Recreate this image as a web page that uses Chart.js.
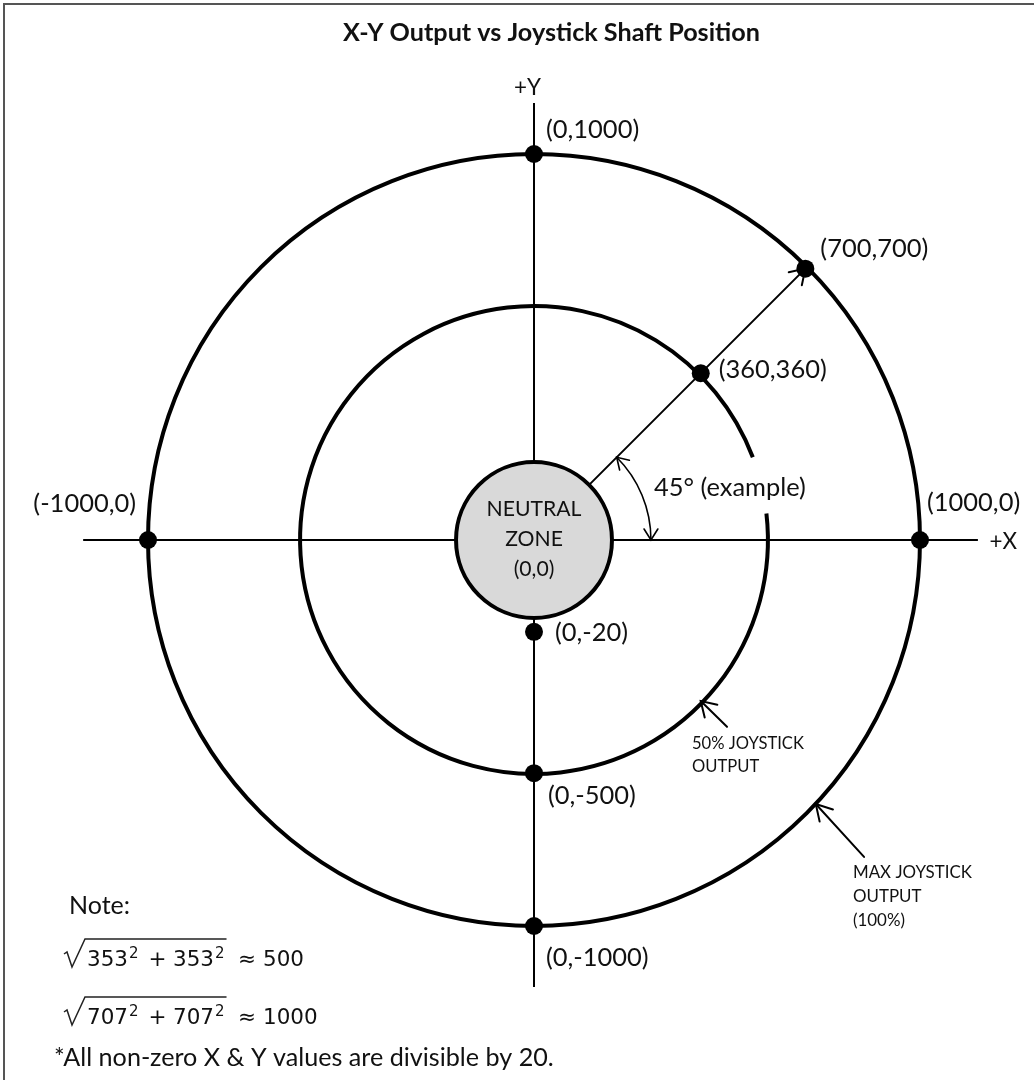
<!DOCTYPE html>
<html>
<head>
<meta charset="utf-8">
<script src="https://cdn.jsdelivr.net/npm/chart.js@4.4.1/dist/chart.umd.min.js"></script>
<style>
  html, body { margin: 0; padding: 0; background: #fff; }
  canvas { display: block; }
</style>
</head>
<body>
<canvas id="c" width="1034" height="1080"></canvas>
<script>
// ---------------- data (diagram units: 100% output ring = 1000) ----------------
const titleText   = 'X-Y Output vs Joystick Shaft Position';
const pointLabels = ['(0,1000)', '(700,700)', '(360,360)', '(-1000,0)', '(1000,0)', '(0,-20)', '(0,-500)', '(0,-1000)'];
const pointX      = [0, 703, 432, -1000, 1000, 0, 0, 0];
const pointY      = [1000, 703, 432, 0, 0, -238, -604, -1000];
const ringRadii   = [1000, 606];          // MAX (100%) ring, 50% ring
const neutralRadius = 202;
const neutralLines  = ['NEUTRAL', 'ZONE', '(0,0)'];
const angleLabel    = '45° (example)';
const innerCallout  = ['50% JOYSTICK', 'OUTPUT'];
const outerCallout  = ['MAX JOYSTICK', 'OUTPUT', '(100%)'];
const noteTitle     = 'Note:';
const formulaTerms  = ['353', '707'];
const formulaResults = ['500', '1000'];
const footnote      = '*All non-zero X & Y values are divisible by 20.';
const axisLabels    = ['+X', '+Y'];

// ---------------- layout ----------------
const W = 1034, H = 1080;
const CX = 534, CY = 540, RPX = 386;          // pixel centre & ring radius
const U = 1000 / RPX;                          // data units per pixel
const FONT = 'Lato, "Open Sans", sans-serif';
const MATHFONT = '"DejaVu Sans", sans-serif';
const INK = '#111';

// label offsets (px) from their dot: [dx, dy(mid of digits), align]
const labelOffsets = [
  [12, -25, 'left'], [15, -21, 'left'], [18, -4, 'left'], [-12, -37, 'right'],
  [7, -38, 'left'], [21, 0, 'left'], [14, 22, 'left'], [12, 31, 'left']
];

function line(ctx, x1, y1, x2, y2) { ctx.beginPath(); ctx.moveTo(x1, y1); ctx.lineTo(x2, y2); ctx.stroke(); }
function barbs(ctx, tx, ty, backAngle, len, spread) {
  ctx.beginPath();
  ctx.moveTo(tx + len * Math.cos(backAngle - spread), ty + len * Math.sin(backAngle - spread));
  ctx.lineTo(tx, ty);
  ctx.lineTo(tx + len * Math.cos(backAngle + spread), ty + len * Math.sin(backAngle + spread));
  ctx.stroke();
}
function fit(ctx, text, family, weight, width) {
  ctx.font = `${weight} 100px ${family}`;
  return 100 * width / ctx.measureText(text).width;
}
// draw text so that the middle of its capital/digit height sits at y
function put(ctx, text, x, y, size, family, weight, align) {
  ctx.font = `${weight} ${size}px ${family}`;
  ctx.textAlign = align; ctx.textBaseline = 'alphabetic';
  ctx.fillStyle = INK;
  const capH = ctx.measureText('H').actualBoundingBoxAscent;
  ctx.fillText(text, x, y + capH / 2);
}
const rad = d => d * Math.PI / 180;

const diagram = {
  id: 'diagram',
  beforeDatasetsDraw(chart) {
    const { ctx, scales: { x, y } } = chart;
    const px = v => x.getPixelForValue(v), py = v => y.getPixelForValue(v);
    const cx = px(0), cy = py(0);
    const r = v => px(v) - px(0);
    ctx.save();
    // frame
    ctx.strokeStyle = '#555'; ctx.lineWidth = 2;
    ctx.strokeRect(4, 4, W + 20, H + 20);
    // axes
    ctx.strokeStyle = '#000'; ctx.lineWidth = 2; ctx.lineCap = 'butt';
    line(ctx, px(-1168), cy, px(1150), cy);
    line(ctx, cx, py(1132), cx, py(-1158));
    // outer ring
    ctx.lineWidth = 4;
    ctx.beginPath(); ctx.arc(cx, cy, r(ringRadii[0]), 0, Math.PI * 2); ctx.stroke();
    // inner ring with gap for the angle label
    ctx.beginPath(); ctx.arc(cx, cy, r(ringRadii[1]), rad(-6.5), rad(-20.7), false); ctx.stroke();
    // radial arrow to (700,700)
    ctx.lineWidth = 2; ctx.lineCap = 'round';
    const a45 = rad(45);
    const sx = cx + r(neutralRadius) * Math.cos(a45), sy = cy - r(neutralRadius) * Math.sin(a45);
    const ex = px(pointX[1]), ey = py(pointY[1]);
    line(ctx, sx, sy, ex, ey);
    barbs(ctx, ex, ey, Math.atan2(sy - ey, sx - ex), 17, rad(33));
    // neutral zone
    ctx.beginPath(); ctx.arc(cx, cy, r(neutralRadius), 0, Math.PI * 2);
    ctx.fillStyle = '#d9d9d9'; ctx.fill();
    ctx.lineWidth = 4; ctx.strokeStyle = '#000'; ctx.stroke();
    // 45° angle arc
    const ar = r(303);
    ctx.lineWidth = 1.6;
    ctx.beginPath(); ctx.arc(cx, cy, ar, -a45, 0, false); ctx.stroke();
    barbs(ctx, cx + ar, cy, -Math.PI / 2, 13, rad(32));
    barbs(ctx, cx + ar * Math.cos(a45), cy - ar * Math.sin(a45), rad(45), 13, rad(32));
    // callout arrows
    ctx.lineWidth = 2;
    const inTip = [px(432), py(-417)], inTail = [px(500), py(-484)];
    line(ctx, inTail[0], inTail[1], inTip[0], inTip[1]);
    barbs(ctx, inTip[0], inTip[1], Math.atan2(inTail[1] - inTip[1], inTail[0] - inTip[0]), 17, rad(32));
    const outTip = [px(730), py(-684)], outTail = [px(855), py(-821)];
    line(ctx, outTail[0], outTail[1], outTip[0], outTip[1]);
    barbs(ctx, outTip[0], outTip[1], Math.atan2(outTail[1] - outTip[1], outTail[0] - outTip[0]), 18, rad(30));
    ctx.restore();
  },
  afterDatasetsDraw(chart) {
    const { ctx, scales: { x, y } } = chart;
    const px = v => x.getPixelForValue(v), py = v => y.getPixelForValue(v);
    const cx = px(0), cy = py(0);
    ctx.save();
    // title
    put(ctx, titleText, 551.5, 32, fit(ctx, titleText, FONT, 'bold', 417), FONT, 'bold', 'center');
    // axis labels
    const axSize = fit(ctx, axisLabels[1], FONT, 'normal', 27);
    put(ctx, axisLabels[1], cx - 20, py(1175), axSize, FONT, 'normal', 'left');
    put(ctx, axisLabels[0], px(1180), cy, axSize, FONT, 'normal', 'left');
    // point labels
    const lblSize = fit(ctx, pointLabels[1], FONT, 'normal', 108);
    pointLabels.forEach((t, i) => {
      const o = labelOffsets[i];
      put(ctx, t, px(pointX[i]) + o[0], py(pointY[i]) + o[1], lblSize, FONT, 'normal', o[2]);
    });
    // neutral zone text
    const nzSize = fit(ctx, neutralLines[0], FONT, 'normal', 95);
    neutralLines.forEach((t, i) => put(ctx, t, cx, cy - 32 + i * 30, nzSize, FONT, 'normal', 'center'));
    // angle label
    put(ctx, angleLabel, 654, 487, fit(ctx, angleLabel, FONT, 'normal', 152), FONT, 'normal', 'left');
    // callouts
    const cSize1 = fit(ctx, innerCallout[0], FONT, 'normal', 112);
    innerCallout.forEach((t, i) => put(ctx, t, 692, 742 + i * 23, cSize1, FONT, 'normal', 'left'));
    const cSize2 = fit(ctx, outerCallout[0], FONT, 'normal', 119);
    outerCallout.forEach((t, i) => put(ctx, t, 853, 871 + i * 24, cSize2, FONT, 'normal', 'left'));
    // note block
    put(ctx, noteTitle, 69, 905, fit(ctx, noteTitle, FONT, 'normal', 61), FONT, 'normal', 'left');
    const dSize = fit(ctx, formulaTerms[0], MATHFONT, 'normal', 41);
    const supSize = dSize * 0.7;
    const baselines = [966, 1024], tops = [939, 997];
    ctx.fillStyle = INK;
    formulaTerms.forEach((t, i) => {
      const b = baselines[i];
      ctx.textBaseline = 'alphabetic'; ctx.textAlign = 'left';
      const base = `normal ${dSize}px ${MATHFONT}`, sup = `normal ${supSize}px ${MATHFONT}`;
      ctx.font = base; ctx.fillText(t, 87, b);
      const tw = ctx.measureText(t).width;
      ctx.font = sup; ctx.fillText('2', 87 + tw + 1, b - dSize * 0.38);
      ctx.font = base; ctx.textAlign = 'center'; ctx.fillText('+', 157.5, b);
      ctx.textAlign = 'left'; ctx.fillText(t, 173, b);
      ctx.font = sup; ctx.fillText('2', 173 + tw + 1, b - dSize * 0.38);
      const supW = ctx.measureText('2').width;
      ctx.font = base; ctx.textAlign = 'center'; ctx.fillText('≈', 247, b);
      ctx.textAlign = 'left'; ctx.fillText(formulaResults[i], 263, b);
      // radical sign
      ctx.strokeStyle = '#222'; ctx.lineWidth = 1.5; ctx.lineJoin = 'miter'; ctx.lineCap = 'butt';
      ctx.beginPath();
      ctx.moveTo(64, tops[i] + 15); ctx.lineTo(67, tops[i] + 13);
      ctx.lineTo(72, tops[i] + 28); ctx.lineTo(85, tops[i]);
      ctx.lineTo(173 + tw + 1 + supW + 2, tops[i]);
      ctx.stroke();
    });
    put(ctx, footnote, 54, 1057, fit(ctx, footnote, FONT, 'normal', 500), FONT, 'normal', 'left');
    ctx.restore();
  }
};

function build() {
  new Chart(document.getElementById('c'), {
    type: 'scatter',
    data: {
      datasets: [{
        data: pointX.map((v, i) => ({ x: v, y: pointY[i] })),
        pointRadius: 9, pointHoverRadius: 9,
        backgroundColor: '#000', borderColor: '#000', borderWidth: 0,
        clip: false
      }]
    },
    options: {
      responsive: false, animation: false, events: [],
      layout: { padding: 0, autoPadding: false },
      plugins: { legend: { display: false }, tooltip: { enabled: false }, title: { display: false } },
      scales: {
        x: { type: 'linear', display: false, bounds: 'data', min: -CX * U, max: (W - CX) * U },
        y: { type: 'linear', display: false, bounds: 'data', min: -(H - CY) * U, max: CY * U }
      }
    },
    plugins: [diagram]
  });
}

const loads = ['20px Lato', 'bold 20px Lato', '20px "DejaVu Sans"'].map(f => document.fonts.load(f).catch(() => null));
Promise.all(loads).then(build, build);
</script>
</body>
</html>
